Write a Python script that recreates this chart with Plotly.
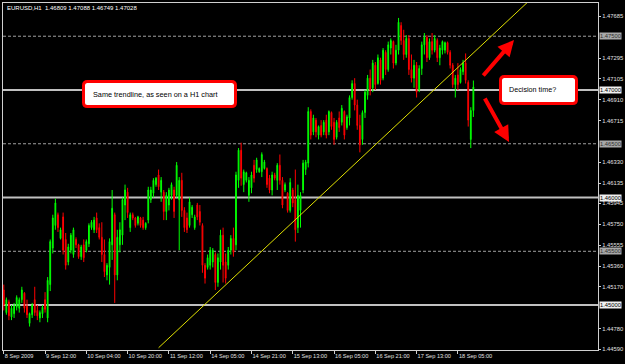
import plotly.graph_objects as go

# ---- data ----
OPEN = [1.4514, 1.4493, 1.4503, 1.4489, 1.4492, 1.4498, 1.4497, 1.4505, 1.4511, 1.4499,
        1.4483, 1.4491, 1.4505, 1.4495, 1.4488, 1.4492, 1.4505, 1.4488, 1.4519, 1.4553,
        1.4574, 1.4584, 1.4562, 1.4582, 1.4561, 1.4540, 1.4551, 1.4547, 1.4561, 1.4556,
        1.4545, 1.4556, 1.4551, 1.4557, 1.4572, 1.4570, 1.4581, 1.4572, 1.4563, 1.4547,
        1.4528, 1.4535, 1.4556, 1.4584, 1.4528, 1.4556, 1.4565, 1.4593, 1.4605, 1.4572,
        1.4584, 1.4581, 1.4576, 1.4581, 1.4579, 1.4572, 1.4579, 1.4598, 1.4604, 1.4612,
        1.4621, 1.4605, 1.4605, 1.4587, 1.4593, 1.4602, 1.4607, 1.4602, 1.4598, 1.4616,
        1.4588, 1.4581, 1.4574, 1.4584, 1.4572, 1.4593, 1.4587, 1.4574, 1.4537, 1.4535,
        1.4537, 1.4540, 1.4547, 1.4521, 1.4540, 1.4565, 1.4540, 1.4537, 1.4551, 1.4562,
        1.4556, 1.4616, 1.4644, 1.4612, 1.4616, 1.4602, 1.4609, 1.4630, 1.4626, 1.4624,
        1.4624, 1.4627, 1.4627, 1.4618, 1.4607, 1.4621, 1.4616, 1.4630, 1.4616, 1.4607,
        1.4604, 1.4588, 1.4607, 1.4598, 1.4572, 1.4588, 1.4607, 1.4626, 1.4632, 1.4680,
        1.4661, 1.4672, 1.4658, 1.4667, 1.4661, 1.4672, 1.4661, 1.4679, 1.4670, 1.4656,
        1.4674, 1.4670, 1.4680, 1.4665, 1.4674, 1.4693, 1.4706, 1.4686, 1.4667, 1.4654,
        1.4679, 1.4695, 1.4711, 1.4702, 1.4723, 1.4706, 1.4728, 1.4711, 1.4735, 1.4719,
        1.4739, 1.4745, 1.4725, 1.4737, 1.4760, 1.4746, 1.4733, 1.4748, 1.4719, 1.4711,
        1.4723, 1.4700, 1.4720, 1.4742, 1.4749, 1.4730, 1.4745, 1.4737, 1.4746, 1.4730,
        1.4737, 1.4737, 1.4744, 1.4735, 1.4723, 1.4705, 1.4714, 1.4707, 1.4717, 1.4725,
        1.4707, 1.4654, 1.46809]
HIGH = [1.4519, 1.4507, 1.4505, 1.4500, 1.4502, 1.4509, 1.4507, 1.4517, 1.4512, 1.4505,
        1.4493, 1.4502, 1.4517, 1.4500, 1.4495, 1.4500, 1.4512, 1.4526, 1.4561, 1.4584,
        1.4599, 1.4586, 1.4572, 1.4586, 1.4567, 1.4557, 1.4567, 1.4572, 1.4563, 1.4557,
        1.4556, 1.4561, 1.4561, 1.4576, 1.4579, 1.4582, 1.4586, 1.4576, 1.4577, 1.4561,
        1.4539, 1.4562, 1.4607, 1.4586, 1.4570, 1.4577, 1.4600, 1.4612, 1.4609, 1.4586,
        1.4586, 1.4582, 1.4583, 1.4582, 1.4582, 1.4577, 1.4610, 1.4610, 1.4618, 1.4619,
        1.4626, 1.4619, 1.4607, 1.4605, 1.4609, 1.4614, 1.4610, 1.4633, 1.4619, 1.4623,
        1.4591, 1.4586, 1.4600, 1.4593, 1.4584, 1.4595, 1.4593, 1.4576, 1.4539, 1.4547,
        1.4554, 1.4553, 1.4549, 1.4548, 1.4570, 1.4572, 1.4548, 1.4554, 1.4565, 1.4572,
        1.4624, 1.4646, 1.4651, 1.4626, 1.4624, 1.4619, 1.4624, 1.4635, 1.4637, 1.4628,
        1.4642, 1.4635, 1.4628, 1.4621, 1.4624, 1.4623, 1.4632, 1.4640, 1.4619, 1.4614,
        1.4605, 1.4618, 1.4609, 1.4626, 1.4612, 1.4605, 1.4635, 1.4635, 1.4684, 1.4682,
        1.4677, 1.4674, 1.4667, 1.4672, 1.4672, 1.4677, 1.4681, 1.4680, 1.4674, 1.4672,
        1.4680, 1.4686, 1.4681, 1.4677, 1.4695, 1.4709, 1.4711, 1.4691, 1.4677, 1.4681,
        1.4700, 1.4714, 1.4719, 1.4728, 1.4726, 1.4733, 1.4730, 1.4739, 1.4737, 1.4745,
        1.4748, 1.4746, 1.4742, 1.4767, 1.4763, 1.4756, 1.4751, 1.4751, 1.4733, 1.4728,
        1.4726, 1.4723, 1.4745, 1.4753, 1.4751, 1.4748, 1.4753, 1.4751, 1.4748, 1.4742,
        1.4746, 1.4745, 1.4745, 1.4737, 1.4725, 1.4714, 1.4725, 1.4721, 1.4728, 1.4734,
        1.4709, 1.4684, 1.47088]
LOW = [1.4495, 1.4491, 1.4486, 1.4486, 1.4488, 1.4495, 1.4493, 1.4502, 1.4493, 1.4488,
       1.4480, 1.4488, 1.4490, 1.4486, 1.4484, 1.4488, 1.4493, 1.4484, 1.4513, 1.4548,
       1.4570, 1.4568, 1.4561, 1.4547, 1.4533, 1.4537, 1.4548, 1.4544, 1.4553, 1.4543,
       1.4542, 1.4540, 1.4549, 1.4554, 1.4570, 1.4567, 1.4567, 1.4561, 1.4540, 1.4526,
       1.4523, 1.4519, 1.4542, 1.4502, 1.4523, 1.4549, 1.4556, 1.4579, 1.4581, 1.4568,
       1.4579, 1.4572, 1.4574, 1.4572, 1.4570, 1.4570, 1.4576, 1.4595, 1.4600, 1.4610,
       1.4607, 1.4596, 1.4579, 1.4579, 1.4588, 1.4598, 1.4581, 1.4600, 1.4551, 1.4582,
       1.4568, 1.4567, 1.4572, 1.4581, 1.4570, 1.4579, 1.4574, 1.4530, 1.4520, 1.4533,
       1.4533, 1.4535, 1.4514, 1.4517, 1.4533, 1.4521, 1.4520, 1.4533, 1.4547, 1.4545,
       1.4551, 1.4609, 1.4611, 1.4605, 1.4614, 1.4596, 1.4604, 1.4614, 1.4623, 1.4623,
       1.4619, 1.4626, 1.4609, 1.4604, 1.4602, 1.4616, 1.4607, 1.4612, 1.4590, 1.4605,
       1.4586, 1.4586, 1.4591, 1.4559, 1.4567, 1.4572, 1.4604, 1.4621, 1.4628, 1.4654,
       1.4658, 1.4656, 1.4654, 1.4656, 1.4658, 1.4655, 1.4658, 1.4663, 1.4649, 1.4654,
       1.4661, 1.4667, 1.4654, 1.4663, 1.4667, 1.4691, 1.4681, 1.4663, 1.4642, 1.4649,
       1.4674, 1.4691, 1.4695, 1.4698, 1.4700, 1.4705, 1.4705, 1.4709, 1.4714, 1.4717,
       1.4733, 1.4720, 1.4723, 1.4733, 1.4742, 1.4728, 1.4730, 1.4714, 1.4707, 1.4702,
       1.4693, 1.4698, 1.4714, 1.4733, 1.4726, 1.4728, 1.4733, 1.4735, 1.4726, 1.4723,
       1.4733, 1.4734, 1.4733, 1.4720, 1.4702, 1.4693, 1.4700, 1.4706, 1.4714, 1.4706,
       1.4666, 1.4646, 1.46749]
CLOSE = [1.4500, 1.4505, 1.4490, 1.4497, 1.4499, 1.4507, 1.4505, 1.4514, 1.4497, 1.4491,
         1.4492, 1.4500, 1.4493, 1.4490, 1.4493, 1.4498, 1.4496, 1.4523, 1.4559, 1.4581,
         1.4595, 1.4572, 1.4570, 1.4551, 1.4537, 1.4554, 1.4565, 1.4570, 1.4556, 1.4545,
         1.4554, 1.4544, 1.4559, 1.4574, 1.4577, 1.4579, 1.4570, 1.4563, 1.4547, 1.4531,
         1.4537, 1.4559, 1.4590, 1.4528, 1.4563, 1.4570, 1.4598, 1.4607, 1.4586, 1.4584,
         1.4581, 1.4574, 1.4582, 1.4574, 1.4572, 1.4576, 1.4607, 1.4607, 1.4616, 1.4618,
         1.4610, 1.4616, 1.4587, 1.4602, 1.4607, 1.4612, 1.4587, 1.4630, 1.4616, 1.4588,
         1.4572, 1.4570, 1.4596, 1.4591, 1.4582, 1.4582, 1.4577, 1.4537, 1.4525, 1.4544,
         1.4551, 1.4551, 1.4521, 1.4544, 1.4565, 1.4537, 1.4525, 1.4551, 1.4562, 1.4549,
         1.4621, 1.4644, 1.4618, 1.4624, 1.4623, 1.4616, 1.4621, 1.4618, 1.4635, 1.4627,
         1.4640, 1.4633, 1.4612, 1.4607, 1.4621, 1.4618, 1.4630, 1.4616, 1.4593, 1.4612,
         1.4588, 1.4614, 1.4595, 1.4570, 1.4602, 1.4602, 1.4632, 1.4633, 1.4680, 1.4658,
         1.4674, 1.4661, 1.4666, 1.4658, 1.4670, 1.4658, 1.4680, 1.4666, 1.4654, 1.4670,
         1.4665, 1.4683, 1.4658, 1.4675, 1.4693, 1.4706, 1.4686, 1.4667, 1.4649, 1.4679,
         1.4698, 1.4711, 1.4700, 1.4725, 1.4705, 1.4730, 1.4709, 1.4737, 1.4719, 1.4742,
         1.4746, 1.4725, 1.4737, 1.4763, 1.4746, 1.4733, 1.4748, 1.4719, 1.4711, 1.4723,
         1.4698, 1.4720, 1.4742, 1.4749, 1.4730, 1.4745, 1.4737, 1.4748, 1.4730, 1.4739,
         1.4745, 1.4744, 1.4735, 1.4723, 1.4705, 1.4711, 1.4705, 1.4719, 1.4725, 1.4709,
         1.4672, 1.4681, 1.47028]

DATE_TICK_LABELS = ["8 Sep 2009", "9 Sep 12:00", "10 Sep 04:00", "10 Sep 20:00",
                    "11 Sep 12:00", "14 Sep 05:00", "14 Sep 21:00", "15 Sep 13:00",
                    "16 Sep 05:00", "16 Sep 21:00", "17 Sep 13:00", "18 Sep 05:00"]
DATE_TICK_BARS = [0, 16, 32, 48, 64, 80, 96, 112, 128, 144, 160, 176]

PRICE_TICKS = [1.44590, 1.44780, 1.45170, 1.45360, 1.45555, 1.45750, 1.45945,
               1.46135, 1.46330, 1.46715, 1.46910, 1.47105, 1.47295, 1.47685]

LEVELS = [1.47500, 1.47000, 1.46500, 1.46000, 1.45500, 1.45000]
LEVEL_DASHED = [True, False, True, False, True, False]

TREND_BARS = [60, 215]
TREND_PRICES = [1.44603, 1.48086]

HEADER = "EURUSD,H1  1.46809 1.47088 1.46749 1.47028"
NOTE_LEFT = "Same trendline, as seen on a H1 chart"
NOTE_RIGHT = "Decision time?"

# ---- figure ----
W, H = 625, 364
ML, MR, MT, MB = 3, 27, 3, 14
PW, PH = W - ML - MR, H - MT - MB

def px_x(x):
    return (x - ML) / PW

def px_y(y):
    return (H - MB - y) / PH

fig = go.Figure()
fig.add_trace(go.Candlestick(
    x=list(range(len(OPEN))), open=OPEN, high=HIGH, low=LOW, close=CLOSE,
    increasing=dict(line=dict(color="#00ff00", width=1), fillcolor="#00c800"),
    decreasing=dict(line=dict(color="#ff0000", width=1), fillcolor="#d00000"),
    whiskerwidth=0, showlegend=False, hoverinfo="skip"))

fig.add_trace(go.Scatter(x=TREND_BARS, y=TREND_PRICES, mode="lines",
                         line=dict(color="#e0e000", width=1), showlegend=False,
                         hoverinfo="skip"))

shapes = []
annotations = []
for lv, dashed in zip(LEVELS, LEVEL_DASHED):
    if dashed:
        shapes.append(dict(type="line", xref="paper", yref="y", x0=0, x1=1, y0=lv, y1=lv,
                           line=dict(color="#a0a0a0", width=1, dash="3px,2px"), layer="below"))
        bg, fg = "#a8a8a8", "#303030"
    else:
        shapes.append(dict(type="line", xref="paper", yref="y", x0=0, x1=1, y0=lv, y1=lv,
                           line=dict(color="#c0c0c0", width=2), layer="below"))
        bg, fg = "#f0f0f0", "#000000"
    annotations.append(dict(xref="paper", yref="y", x=1, y=lv, xanchor="left", yanchor="middle",
                            xshift=1, text=f"{lv:.5f}", showarrow=False, bgcolor=bg,
                            font=dict(family="Liberation Sans", size=5.8, color=fg),
                            borderpad=0))

def rounded_box(x0, y0, x1, y1, r=4):
    X = lambda v: px_x(v)
    Y = lambda v: px_y(v)
    return (f"M {X(x0 + r)} {Y(y0)} L {X(x1 - r)} {Y(y0)} Q {X(x1)} {Y(y0)} {X(x1)} {Y(y0 + r)} "
            f"L {X(x1)} {Y(y1 - r)} Q {X(x1)} {Y(y1)} {X(x1 - r)} {Y(y1)} "
            f"L {X(x0 + r)} {Y(y1)} Q {X(x0)} {Y(y1)} {X(x0)} {Y(y1 - r)} "
            f"L {X(x0)} {Y(y0 + r)} Q {X(x0)} {Y(y0)} {X(x0 + r)} {Y(y0)} Z")

for (bx0, by0, bx1, by1) in [(83.5, 81.5, 235.5, 106.5), (500.5, 76.5, 576.5, 103.5)]:
    shapes.append(dict(type="path", xref="paper", yref="paper",
                       path=rounded_box(bx0, by0, bx1, by1),
                       line=dict(color="#ff0000", width=3), fillcolor="#ffffff", layer="above"))

annotations.append(dict(xref="paper", yref="paper", x=px_x(91), y=px_y(94), xanchor="left",
                        yanchor="middle", text=NOTE_LEFT, showarrow=False,
                        font=dict(family="Liberation Sans", size=7.3, color="#000000")))
annotations.append(dict(xref="paper", yref="paper", x=px_x(507), y=px_y(89), xanchor="left",
                        yanchor="middle", text=NOTE_RIGHT, showarrow=False,
                        font=dict(family="Liberation Sans", size=7.2, color="#000000")))

for (tipx, tipy, tailx, taily) in [(514, 40, 482, 77), (509, 142, 484, 97)]:
    annotations.append(dict(xref="paper", yref="paper", x=px_x(tipx), y=px_y(tipy),
                            ax=tailx - tipx, ay=taily - tipy, axref="pixel", ayref="pixel",
                            text="", showarrow=True, arrowhead=2, arrowsize=0.8,
                            arrowwidth=4, arrowcolor="#ff0000", standoff=0))

annotations.append(dict(xref="paper", yref="paper", x=px_x(5), y=px_y(8), xanchor="left",
                        yanchor="middle", text=HEADER, showarrow=False,
                        font=dict(family="Liberation Sans", size=6, color="#ffffff")))

fig.update_layout(
    width=W, height=H, margin=dict(l=ML, r=MR, t=MT, b=MB, autoexpand=False),
    paper_bgcolor="#000000", plot_bgcolor="#000000", boxgap=0.55,
    shapes=shapes, annotations=annotations, showlegend=False,
    xaxis=dict(range=[-0.3, 230.3], showgrid=False, zeroline=False, rangeslider=dict(visible=False),
               tickmode="array", tickvals=DATE_TICK_BARS, ticktext=DATE_TICK_LABELS,
               ticks="outside", ticklen=3, tickcolor="#d0d0d0", ticklabelposition="outside right",
               tickangle=0, automargin=False,
               tickfont=dict(family="Liberation Sans", size=5.6, color="#e0e0e0"),
               showline=True, linecolor="#d0d0d0", linewidth=1, mirror=True),
    yaxis=dict(range=[1.44582, 1.47809], side="right", showgrid=False, zeroline=False,
               tickmode="array", tickvals=PRICE_TICKS, ticktext=[f"{v:.5f}" for v in PRICE_TICKS],
               ticks="outside", ticklen=2, tickcolor="#d0d0d0", automargin=False,
               tickfont=dict(family="Liberation Sans", size=5.8, color="#e0e0e0"),
               showline=True, linecolor="#d0d0d0", linewidth=1, mirror=True),
)

fig.write_html("out.html")
